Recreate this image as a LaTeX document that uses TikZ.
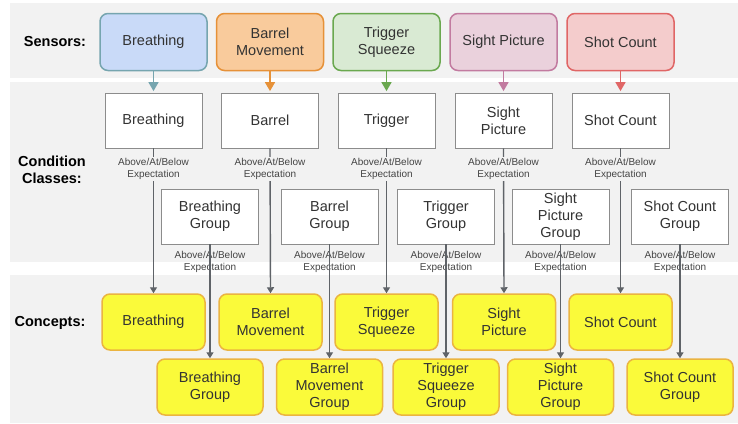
\documentclass[tikz,border=0pt]{standalone}
\usepackage{fontspec}
\setmainfont{Liberation Sans}
\usetikzlibrary{arrows.meta}
\definecolor{bandgray}{HTML}{F2F2F2}
\definecolor{textgray}{HTML}{333333}
\definecolor{lablgray}{HTML}{444444}
\definecolor{condgray}{HTML}{8C8C8C}
\definecolor{arrowgray}{HTML}{5F6368}
\definecolor{conceptfill}{HTML}{FAFA3A}
\definecolor{conceptline}{HTML}{EBB440}
\definecolor{breathfill}{HTML}{C9DAF8}
\definecolor{breathline}{HTML}{76A5AF}
\definecolor{barrelfill}{HTML}{F9CB9C}
\definecolor{barrelline}{HTML}{E69138}
\definecolor{triggerfill}{HTML}{D9EAD3}
\definecolor{triggerline}{HTML}{6AA84F}
\definecolor{sightfill}{HTML}{EAD1DC}
\definecolor{sightline}{HTML}{C27BA0}
\definecolor{shotfill}{HTML}{F4CCCC}
\definecolor{shotline}{HTML}{E06666}
\newcommand{\boxfont}{\fontsize{14.5}{17}\selectfont}
\newcommand{\lablfont}{\fontsize{10}{12}\selectfont}
\newcommand{\rowfont}{\fontsize{14.5}{17}\selectfont\bfseries}
\tikzset{
  sensor/.style={rectangle, rounded corners=8pt, line width=1.5pt, minimum width=107pt, minimum height=57pt, align=center, text=textgray, font=\boxfont},
  cond/.style={rectangle, draw=condgray, fill=white, line width=0.8pt, minimum width=97pt, minimum height=55pt, align=center, text=textgray, font=\boxfont},
  concept/.style={rectangle, rounded corners=8pt, draw=conceptline, fill=conceptfill, line width=1.5pt, minimum height=56pt, align=center, text=textgray, font=\boxfont},
  lablabove/.style={fill=bandgray, inner sep=1pt, align=center, font=\lablfont, text=lablgray},
  lablbelow/.style={inner sep=1pt, align=center, font=\lablfont, text=lablgray},
  rowlabel/.style={align=center, font=\rowfont, text=black},
  flow/.style={draw=arrowgray, line width=1.4pt, -{Triangle[length=6pt,width=7pt]}},
  sflow/.style={line width=1.6pt, -{Triangle[length=9pt,width=10pt]}, shorten >=1.5pt},
}
\newcommand{\sensorbox}[5]{\node[sensor, fill=#4fill, draw=#4line] (#1) at (#2, #3) {#5};}
\newcommand{\condbox}[4]{\node[cond] (#1) at (#2, #3) {#4};}
\newcommand{\conceptbox}[5]{\node[concept, minimum width=#4pt] (#1) at (#2, #3) {#5};}
\newcommand{\lablA}[2]{\node[lablabove] (#1) at (#2, 169) {Above/At/Below\\Expectation};}
\newcommand{\lablB}[2]{\node[lablbelow] (#1) at (#2, 262) {Above/At/Below\\Expectation};}

\begin{document}
\begin{tikzpicture}[x=1pt, y=-1pt]
        \useasboundingbox (0,0) rectangle (738,423);
        % bands
        \fill[bandgray] (10,3) rectangle (738,78);
        \fill[bandgray] (10,82) rectangle (738,262);
        \fill[bandgray] (10,275) rectangle (738,423);
        % row labels
        \node[rowlabel] (lsens) at (55,42) {Sensors:};
        \node[rowlabel] (lcond) at (52,170) {Condition\\Classes:};
        \node[rowlabel] (lconc) at (50,323) {Concepts:};
        % sensors
        \sensorbox{sbreath}{153.5}{42}{breath}{Breathing}
        \sensorbox{sbarrel}{270}{42}{barrel}{Barrel\\Movement}
        \sensorbox{strigger}{386.5}{42}{trigger}{Trigger\\Squeeze}
        \sensorbox{ssight}{503.5}{42}{sight}{Sight Picture}
        \sensorbox{sshot}{620.5}{42}{shot}{Shot Count}
        % condition classes, row1
        \condbox{cbreath}{153.5}{120.5}{Breathing}
        \condbox{cbarrel}{270}{120.5}{Barrel}
        \condbox{ctrigger}{386.5}{120.5}{Trigger}
        \condbox{csight}{503.5}{120.5}{Sight\\Picture}
        \condbox{cshot}{620.5}{120.5}{Shot Count}
        % condition classes, row2
        \condbox{gbreath}{210}{216.5}{Breathing\\Group}
        \condbox{gbarrel}{329.5}{216.5}{Barrel\\Group}
        \condbox{gtrigger}{446}{216.5}{Trigger\\Group}
        \condbox{gsight}{560.5}{216.5}{Sight\\Picture\\Group}
        \condbox{gshot}{680}{216.5}{Shot Count\\Group}
        % concepts, row1
        \conceptbox{kbreath}{153.5}{322}{103}{Breathing}
        \conceptbox{kbarrel}{270.5}{322}{103}{Barrel\\Movement}
        \conceptbox{ktrigger}{386.5}{322}{103}{Trigger\\Squeeze}
        \conceptbox{ksight}{504}{322}{103}{Sight\\Picture}
        \conceptbox{kshot}{620.5}{322}{103}{Shot Count}
        % concepts, row2
        \conceptbox{hbreath}{210}{387}{106}{Breathing\\Group}
        \conceptbox{hbarrel}{329.5}{387}{106}{Barrel\\Movement\\Group}
        \conceptbox{htrigger}{446}{387}{106}{Trigger\\Squeeze\\Group}
        \conceptbox{hsight}{560.5}{387}{106}{Sight\\Picture\\Group}
        \conceptbox{hshot}{680}{387}{106}{Shot Count\\Group}
        % labels for row2
        \lablB{lgbreath}{210}
        \lablB{lgbarrel}{329.5}
        \lablB{lgtrigger}{446}
        \lablB{lgsight}{560.5}
        \lablB{lgshot}{680}
        % sensor arrows
        \draw[sflow, draw=breathline, fill=breathline] (sbreath.south) -- (cbreath.north);
        \draw[sflow, draw=barrelline, fill=barrelline] (sbarrel.south) -- (cbarrel.north);
        \draw[sflow, draw=triggerline, fill=triggerline] (strigger.south) -- (ctrigger.north);
        \draw[sflow, draw=sightline, fill=sightline] (ssight.south) -- (csight.north);
        \draw[sflow, draw=shotline, fill=shotline] (sshot.south) -- (cshot.north);
        % arrows row1
        \draw[flow] (cbreath.south) -- (kbreath.north);
        \draw[flow] (cbarrel.south) -- (kbarrel.north);
        \draw[flow] (ctrigger.south) -- (ktrigger.north);
        \draw[flow] (csight.south) -- (ksight.north);
        \draw[flow] (cshot.south) -- (kshot.north);
        % arrows row2
        \draw[flow] (gbreath.south) -- (hbreath.north);
        \draw[flow] (gbarrel.south) -- (hbarrel.north);
        \draw[flow] (gtrigger.south) -- (htrigger.north);
        \draw[flow] (gsight.south) -- (hsight.north);
        \draw[flow] (gshot.south) -- (hshot.north);
        % labels for row1
        \lablA{lcbreath}{153.5}
        \lablA{lcbarrel}{270}
        \lablA{lctrigger}{386.5}
        \lablA{lcsight}{503.5}
        \lablA{lcshot}{620.5}
\end{tikzpicture}
\end{document}
